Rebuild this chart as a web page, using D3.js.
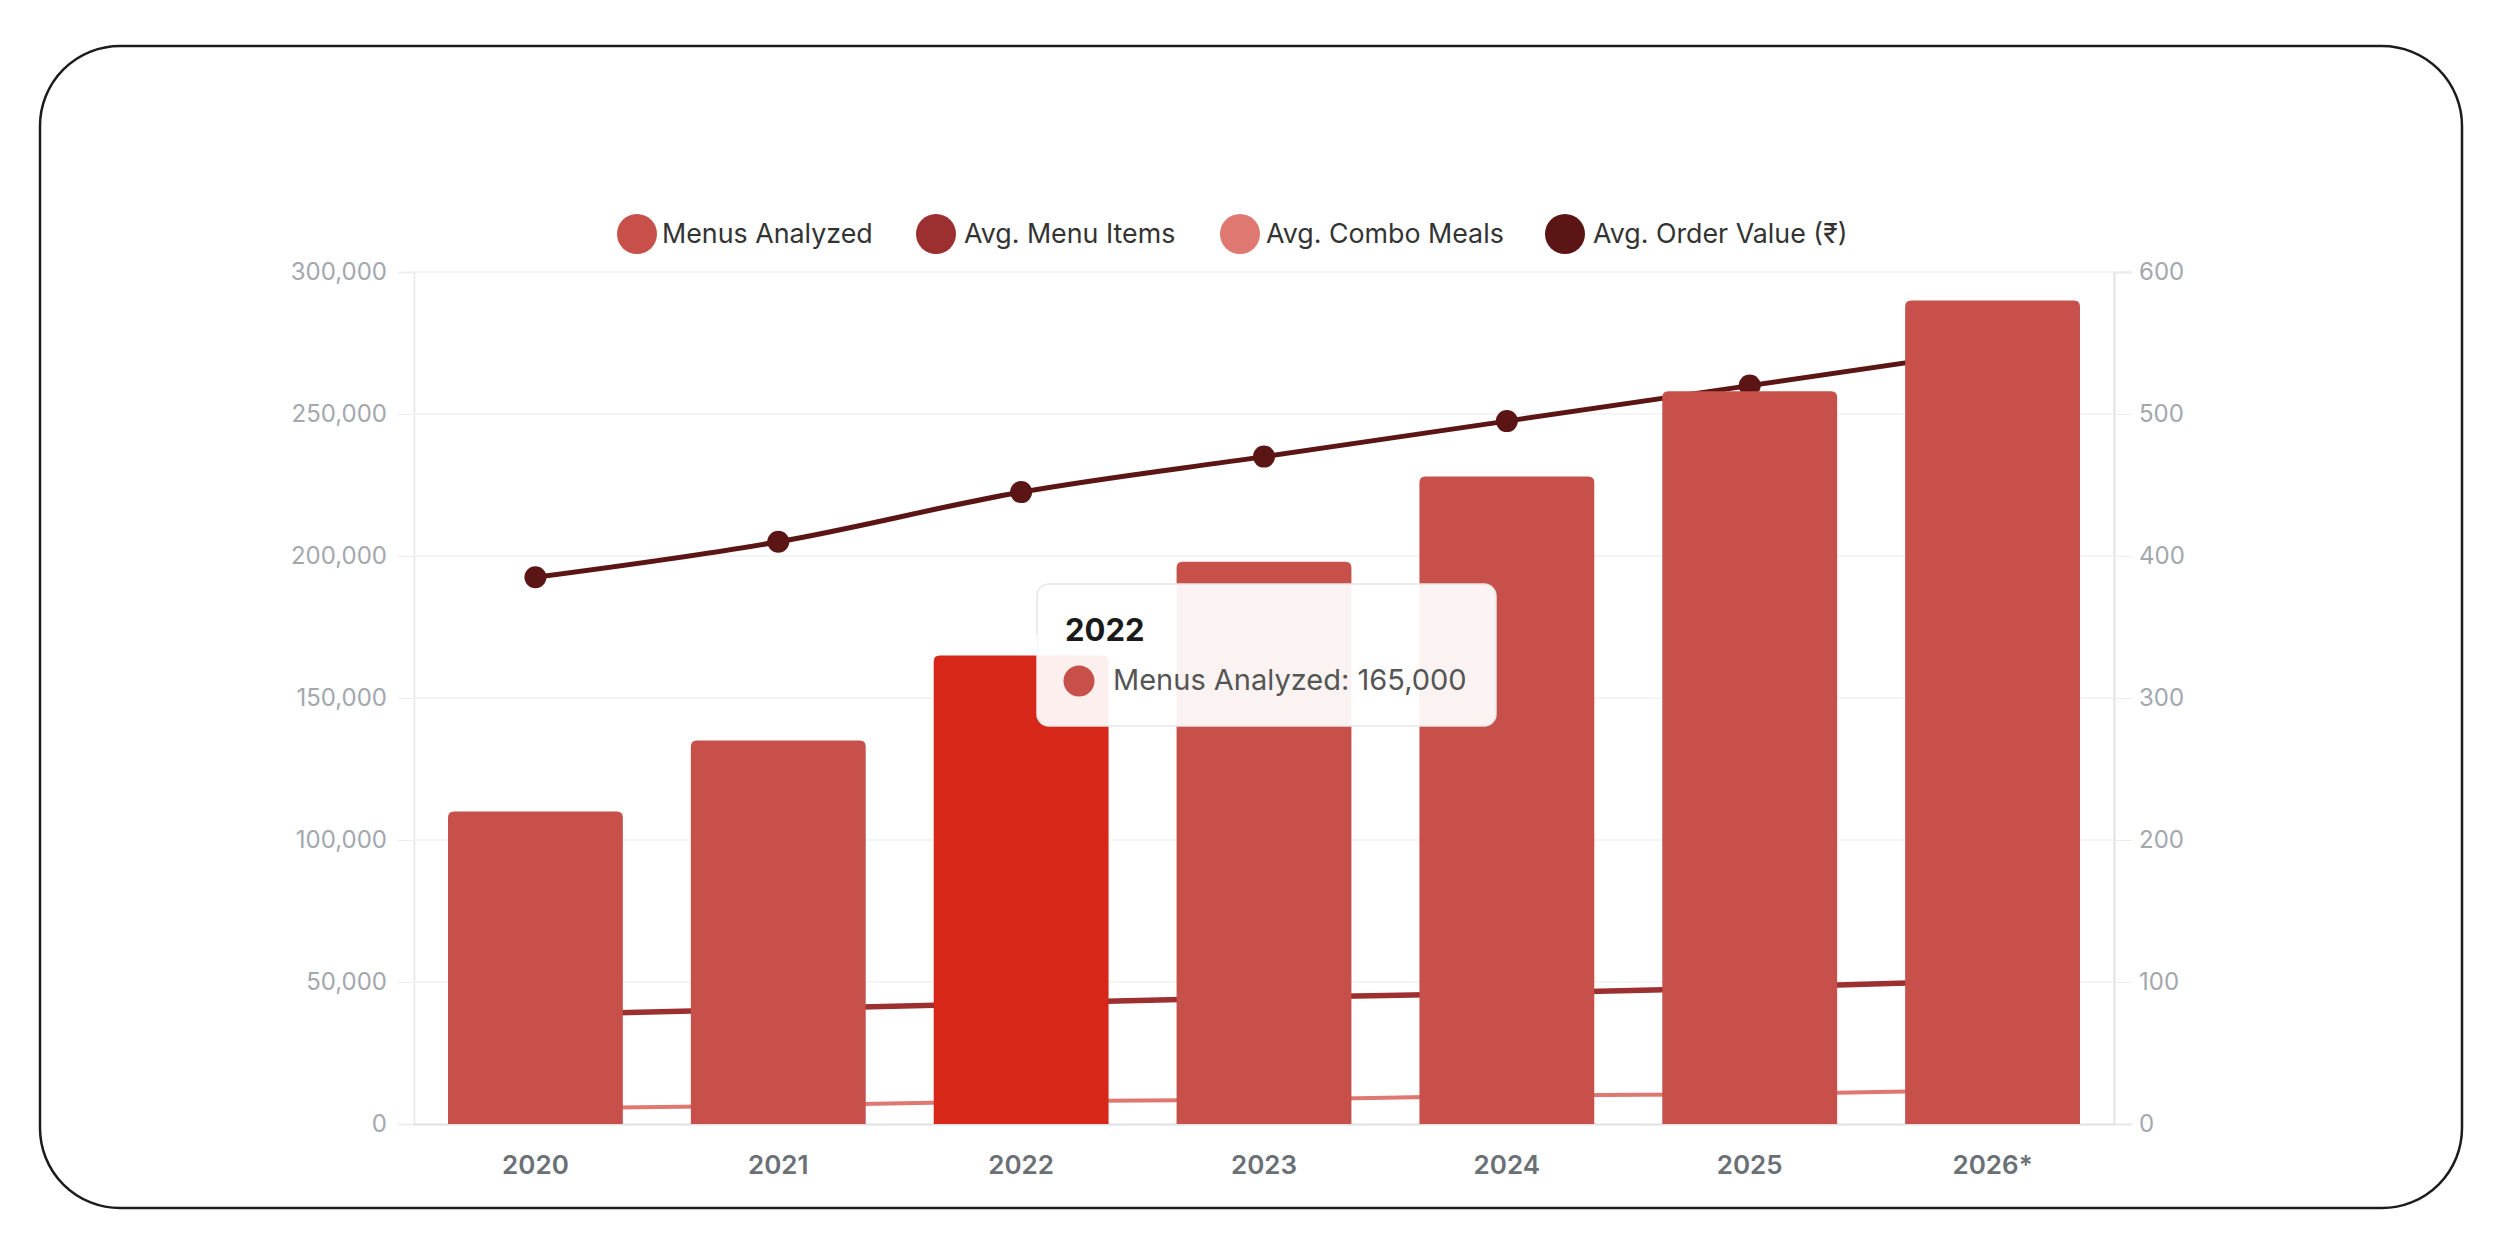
<!DOCTYPE html>
<html><head><meta charset="utf-8">
<script src="https://cdn.jsdelivr.net/npm/d3@7"></script>
<style>
html,body{margin:0;padding:0;background:#fff;}
svg{display:block;font-family:Inter,"Noto Sans",sans-serif;}
</style></head>
<body>
<svg id="chart" width="2497" height="1240"></svg>
<script>
const categories = ["2020","2021","2022","2023","2024","2025","2026*"];
const menusAnalyzed = [110000,135000,165000,198000,228000,258000,290000];
const avgMenuItems = [77,81,85,89,92,96,101];
const avgComboMeals = [11,13,16,17,20,21,24];
const avgOrderValue = [385,410,445,470,495,520,545];
const leftTicks = [0,50000,100000,150000,200000,250000,300000];
const rightTicks = [0,100,200,300,400,500,600];
const seriesNames = ["Menus Analyzed","Avg. Menu Items","Avg. Combo Meals","Avg. Order Value (₹)"];
const seriesColors = ["#C7514A","#9C2F2F","#DE7870","#5C1515"];
const hoverIndex = 2;

const svg = d3.select("#chart");
const L = 414, R = 2114, T = 272, B = 1124;

// border
svg.append("rect").attr("x",40).attr("y",46).attr("width",2422).attr("height",1162)
  .attr("rx",80).attr("fill","#fff").attr("stroke","#1c1c1c").attr("stroke-width",2.5);

const x = d3.scaleBand().domain(categories).range([L,R]).padding(0);
const yL = d3.scaleLinear().domain([0,300000]).range([B,T]);
const yR = d3.scaleLinear().domain([0,600]).range([B,T]);
const cx = d => x(d) + x.bandwidth()/2;

// gridlines + left axis
const gL = svg.append("g").attr("transform",`translate(${L},0)`)
  .call(d3.axisLeft(yL).tickValues(leftTicks).tickSize(16).tickPadding(11).tickFormat(d3.format(",")));
gL.select(".domain").attr("stroke","#e6e6e6").attr("stroke-width",1.5);
gL.selectAll(".tick line").attr("stroke","#ececec");
gL.selectAll(".tick text").attr("fill","#a3a7ae").attr("font-size",24).attr("font-family","Inter");
svg.append("g").selectAll("line").data(leftTicks.slice(1)).join("line")
  .attr("x1",L).attr("x2",R).attr("y1",d=>yL(d)).attr("y2",d=>yL(d))
  .attr("stroke","#f0f0f0").attr("stroke-width",1.5);

const gR = svg.append("g").attr("transform",`translate(${R},0)`)
  .call(d3.axisRight(yR).tickValues(rightTicks).tickSize(18).tickPadding(7));
gR.select(".domain").attr("stroke","#e2e2e2").attr("stroke-width",2);
gR.selectAll(".tick line").attr("stroke","#ececec");
gR.selectAll(".tick text").attr("fill","#a3a7ae").attr("font-size",24).attr("font-family","Inter");

const gX = svg.append("g").attr("transform",`translate(0,${B})`)
  .call(d3.axisBottom(x).tickSize(0).tickPadding(32));
gX.select(".domain").attr("stroke","#e0e0e0").attr("stroke-width",2);
gX.selectAll(".tick text").attr("fill","#6b6f76").attr("font-size",26).attr("font-weight",600).attr("font-family","Inter");

// lines (drawn behind bars)
function drawLine(vals,color,w){
  const line = d3.line().x((d,i)=>cx(categories[i])).y(d=>yR(d)).curve(d3.curveMonotoneX);
  svg.append("path").datum(vals).attr("d",line).attr("fill","none")
    .attr("stroke",color).attr("stroke-width",w).attr("stroke-linejoin","round");
}
drawLine(avgComboMeals,seriesColors[2],4);
drawLine(avgMenuItems,seriesColors[1],5.5);
drawLine(avgOrderValue,seriesColors[3],5);
svg.append("g").selectAll("circle").data(avgOrderValue).join("circle")
  .attr("cx",(d,i)=>cx(categories[i])).attr("cy",d=>yR(d)).attr("r",11).attr("fill",seriesColors[3]);

// bars with rounded top corners
const bw = x.bandwidth()*0.72, rr = 6;
svg.append("g").selectAll("path").data(menusAnalyzed).join("path")
  .attr("d",(d,i)=>{
    const x0 = cx(categories[i]) - bw/2, x1 = x0 + bw, y0 = yL(d), y1 = yL(0);
    return `M${x0},${y1}V${y0+rr}Q${x0},${y0} ${x0+rr},${y0}H${x1-rr}Q${x1},${y0} ${x1},${y0+rr}V${y1}Z`;
  })
  .attr("fill",(d,i)=> i===hoverIndex ? "#D62719" : seriesColors[0]);

// legend
const legend = [
  {cx:637, tx:662},{cx:936, tx:964},{cx:1240, tx:1266},{cx:1565, tx:1593}
];
const lg = svg.append("g");
seriesNames.forEach((n,i)=>{
  lg.append("circle").attr("cx",legend[i].cx).attr("cy",234).attr("r",20).attr("fill",seriesColors[i]);
  lg.append("text").attr("x",legend[i].tx).attr("y",243).text(n)
    .attr("font-size",26.8).attr("fill","#333").attr("font-family","Inter");
});

// tooltip
const tt = svg.append("g");
const bx=1037, by=584, bwT=459, bh=142;
tt.append("rect").attr("x",bx).attr("y",by).attr("width",bwT).attr("height",bh).attr("rx",12)
  .attr("fill","rgba(255,255,255,0.93)").attr("stroke","#e6e6e6").attr("stroke-width",1.5);
tt.append("path").attr("d",`M${bx+0.5},${by+50}L${bx-10},${by+61}L${bx+0.5},${by+72}Z`)
  .attr("fill","rgba(255,255,255,0.95)");
tt.append("text").attr("x",1065).attr("y",641).text(categories[hoverIndex])
  .attr("font-size",31).attr("font-weight",700).attr("fill","#1a1a1a").attr("font-family","Inter");
tt.append("circle").attr("cx",1079).attr("cy",681).attr("r",15.5).attr("fill",seriesColors[0]);
tt.append("text").attr("x",1113).attr("y",690)
  .text(`${seriesNames[0]}: ${d3.format(",")(menusAnalyzed[hoverIndex])}`)
  .attr("font-size",29).attr("fill","#555").attr("font-family","Inter");
</script>
</body></html>
